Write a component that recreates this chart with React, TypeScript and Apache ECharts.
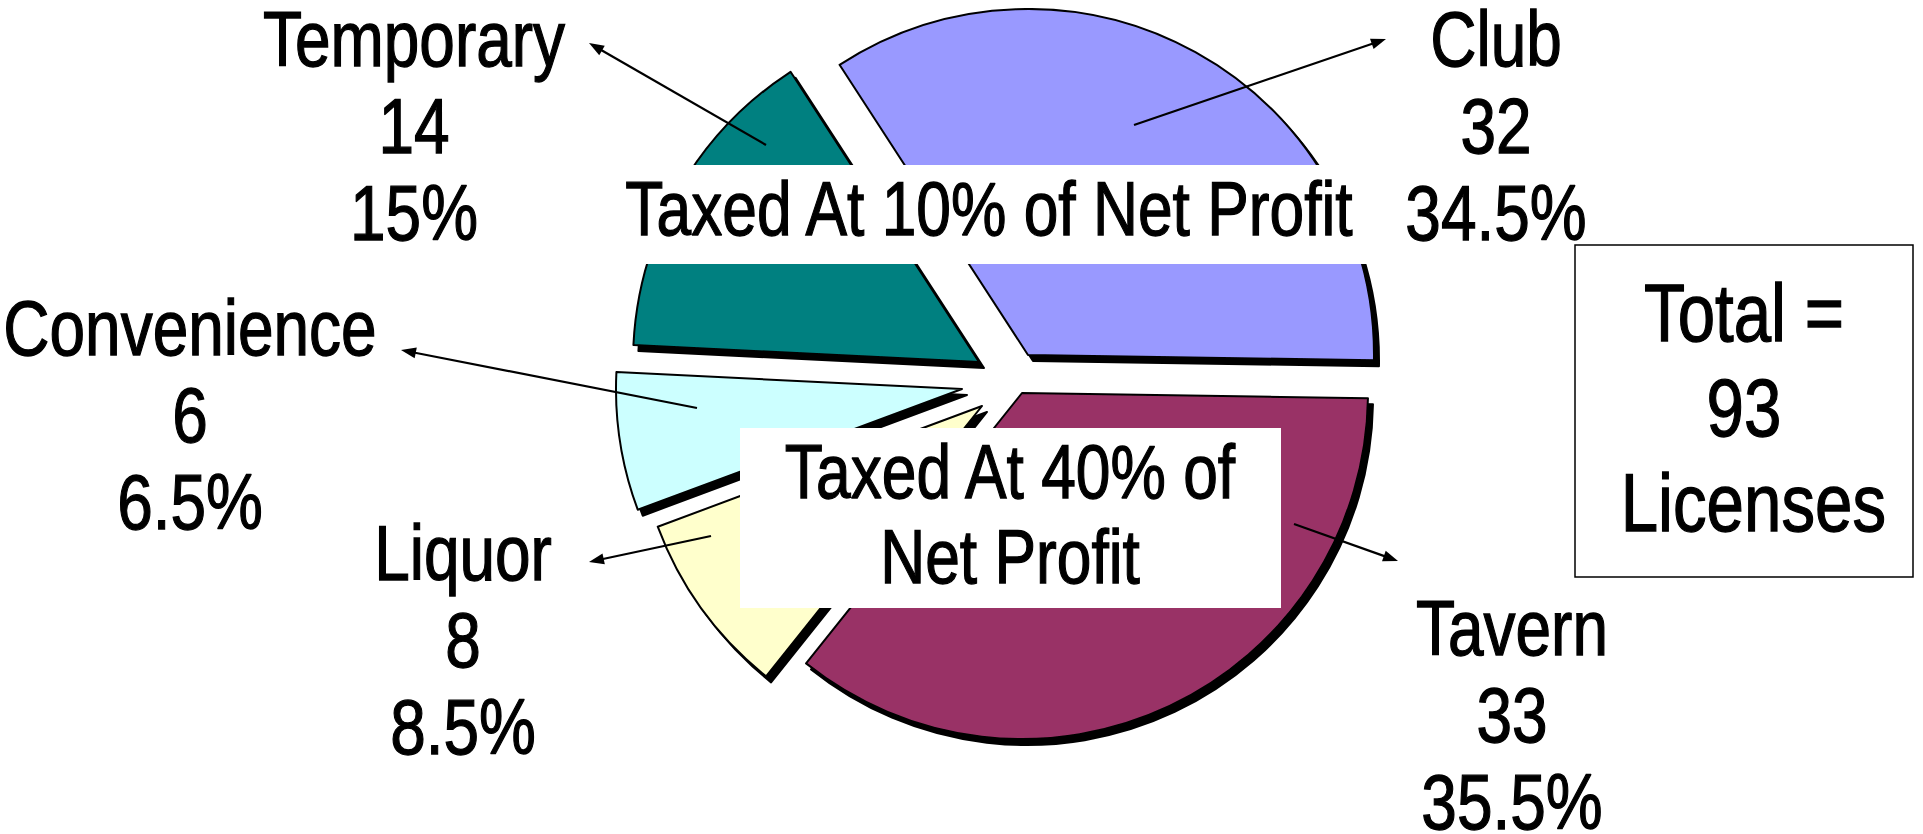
import React, { useEffect, useRef } from "react";
import * as echarts from "echarts";

// ---- data ----
const categories = ["Club", "Tavern", "Liquor", "Convenience", "Temporary"];
const licenseCounts = [32, 33, 8, 6, 14];
const shareLabels = ["34.5%", "35.5%", "8.5%", "6.5%", "15%"];
const totalLicenses = 93;
const taxNotes = ["Taxed At 10% of Net Profit", "Taxed At 40% of\nNet Profit"];

// ---- layout / style ----
const sliceColors = ["#9999FF", "#993366", "#FFFFCC", "#CCFFFF", "#008080"];
const sliceCenters: [number, number][] = [
  [1028, 355],
  [1022, 393],
  [982, 406],
  [962, 389],
  [979, 362],
];
const pieRadius = 346;
const startAngle = 123;
const labelPos: [number, number][] = [
  [1496, 126],
  [1512, 715],
  [463, 640],
  [190, 415],
  [414, 126],
];
const arrowLines: [number, number, number, number][] = [
  [1134, 125, 1386, 39],
  [1294, 524, 1398, 561],
  [711, 536, 589, 562],
  [697, 408, 401, 350],
  [766, 145, 589, 43],
];
const FONT = '"Liberation Sans", Arimo, Arial, sans-serif';
const NARROW = 0.82;

function arrowGraphics() {
  const out: any[] = [];
  arrowLines.forEach(([x1, y1, x2, y2]) => {
    const dx = x2 - x1;
    const dy = y2 - y1;
    const len = Math.sqrt(dx * dx + dy * dy);
    const ux = dx / len;
    const uy = dy / len;
    const hl = 15;
    const hw = 5.5;
    const bx = x2 - ux * hl;
    const by = y2 - uy * hl;
    out.push({
      type: "line",
      z: 30,
      shape: { x1, y1, x2: bx + ux * 2, y2: by + uy * 2 },
      style: { stroke: "#000", lineWidth: 2.2 },
      silent: true,
    });
    out.push({
      type: "polygon",
      z: 30,
      shape: {
        points: [
          [x2, y2],
          [bx - uy * hw, by + ux * hw],
          [bx + uy * hw, by - ux * hw],
        ],
      },
      style: { fill: "#000" },
      silent: true,
    });
  });
  return out;
}

function narrowText(x: number, y: number, text: string, size: number, lineHeight: number) {
  return {
    type: "text",
    z: 40,
    x,
    y,
    scaleX: NARROW,
    silent: true,
    style: {
      text,
      fill: "#000",
      stroke: "#000",
      lineWidth: 1.3,
      font: `${size}px ${FONT}`,
      lineHeight,
      align: "center",
      verticalAlign: "middle",
    },
  };
}

export default function App() {
  const ref = useRef<HTMLDivElement>(null);
  useEffect(() => {
    document.body.style.margin = "0";
    const chart = echarts.init(ref.current!, null, { renderer: "svg" });

    const series = categories.map((_, i) => ({
      type: "pie",
      z: 2 + i,
      silent: true,
      center: sliceCenters[i],
      radius: pieRadius,
      startAngle,
      clockwise: true,
      avoidLabelOverlap: false,
      label: { show: false },
      labelLine: { show: false },
      emphasis: { disabled: true },
      data: categories.map((name, j) => ({
        name,
        value: licenseCounts[j],
        itemStyle:
          j === i
            ? {
                color: sliceColors[j],
                borderColor: "#000",
                borderWidth: 2,
                shadowBlur: 0,
                shadowColor: "#000",
                shadowOffsetX: 5,
                shadowOffsetY: 6,
              }
            : { opacity: 0, borderWidth: 0 },
      })),
    }));

    const labelTexts = categories.map((name, i) =>
      narrowText(
        labelPos[i][0],
        labelPos[i][1],
        `${name}\n${licenseCounts[i]}\n${shareLabels[i]}`,
        78,
        87
      )
    );

    const graphic: any[] = [
      {
        type: "rect",
        z: 20,
        silent: true,
        shape: { x: 610, y: 165, width: 760, height: 99 },
        style: { fill: "#fff" },
      },
      narrowText(989, 209, taxNotes[0], 76, 85),
      {
        type: "rect",
        z: 20,
        silent: true,
        shape: { x: 740, y: 428, width: 541, height: 180 },
        style: { fill: "#fff" },
      },
      narrowText(1010, 514, taxNotes[1], 76, 85),
      {
        type: "rect",
        z: 20,
        silent: true,
        shape: { x: 1575, y: 245, width: 338, height: 332 },
        style: { fill: "#fff", stroke: "#000", lineWidth: 1.5 },
      },
      narrowText(1744, 408, `Total =\n${totalLicenses}\n Licenses`, 82, 95),
      ...labelTexts,
      ...arrowGraphics(),
    ];

    chart.setOption({
      animation: false,
      backgroundColor: "#fff",
      series,
      graphic,
    });
    return () => chart.dispose();
  }, []);
  return (
    <div
      ref={ref}
      style={{ position: "fixed", left: 0, top: 0, width: 1923, height: 834 }}
    />
  );
}
